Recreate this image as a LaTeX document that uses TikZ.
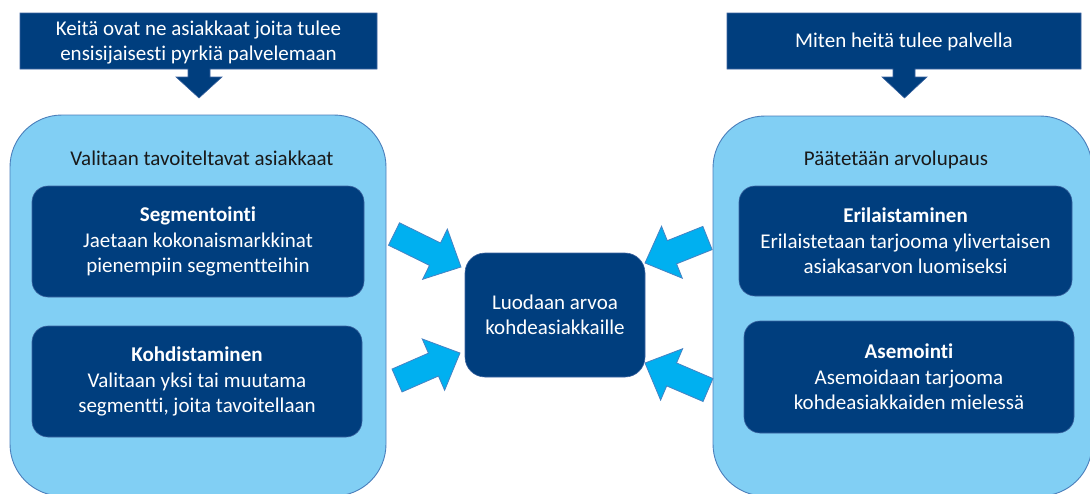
\documentclass[tikz,border=0pt]{standalone}
\usepackage{fontspec}
\setmainfont{Carlito}[RawFeature={-liga}]
\usetikzlibrary{calc}

\definecolor{navy}{RGB}{0,62,126}
\definecolor{navyedge}{RGB}{60,100,160}
\definecolor{sky}{RGB}{129,207,244}
\definecolor{skyline}{RGB}{74,126,187}
\definecolor{pushfill}{RGB}{0,176,240}
\definecolor{pushline}{RGB}{70,130,195}

% block arrow from a tail point to a tip point
\newcommand\pusharrow[2]{%
  \draw[flow] ($(#1)!12.5pt!90:(#2)$)
    -- ($($(#2)!29pt!(#1)$)!12.5pt!-90:(#1)$)
    -- ($($(#2)!29pt!(#1)$)!28pt!-90:(#1)$)
    -- (#2)
    -- ($($(#2)!29pt!(#1)$)!28pt!90:(#1)$)
    -- ($($(#2)!29pt!(#1)$)!12.5pt!90:(#1)$)
    -- ($(#1)!12.5pt!-90:(#2)$) -- cycle;}

\begin{document}
\begin{tikzpicture}[x=1pt,y=-1pt,
  txt/.style={font=\fontsize{21}{25.5}\selectfont, align=center, inner sep=0pt},
  panel/.style={fill=sky, draw=skyline, line width=0.9pt, rounded corners=52pt},
  card/.style={txt, fill=navy, draw=navyedge, line width=0.6pt, rounded corners=16pt, text=white},
  callout/.style={fill=navy, draw=navyedge, line width=0.6pt},
  flow/.style={fill=pushfill, draw=pushline, line width=0.8pt, line join=miter}]

\useasboundingbox (0,0) rectangle (1090,493);
\clip (0,0) rectangle (1090,493);

% question callouts
\draw[callout] (20,13) -- (377,13) -- (377,69) -- (210,69) -- (210,77) -- (222,77)
  -- (199,98) -- (176,77) -- (188,77) -- (188,69) -- (20,69) -- cycle;
\node[txt, text=white] (q1) at (198.5,42.5) {Keitä ovat ne asiakkaat joita tulee\\ensisijaisesti pyrkiä palvelemaan};

\draw[callout] (727,13) -- (1081,13) -- (1081,69) -- (915,69) -- (915,77) -- (927,77)
  -- (904.5,98) -- (882,77) -- (893,77) -- (893,69) -- (727,69) -- cycle;
\node[txt, text=white] (q2) at (904,42) {Miten heitä tulee palvella};

% two large panels
\draw[panel] (10,115) rectangle (386,496);
\draw[panel] (713,116) rectangle (1092,496);

\node[txt, text=black!90] (lt) at (202,158) {Valitaan tavoiteltavat asiakkaat};
\node[txt, text=black!90] (rt) at (896,160) {Päätetään arvolupaus};

% step cards
\node[card, minimum width=332pt, minimum height=111pt] (seg) at (198,241.5)
  {\textbf{Segmentointi}\\Jaetaan kokonaismarkkinat\\pienempiin segmentteihin};
\node[card, minimum width=330pt, minimum height=111pt] (koh) at (197,381.5)
  {\textbf{Kohdistaminen}\\Valitaan yksi tai muutama\\segmentti, joita tavoitellaan};
\node[card, minimum width=333pt, minimum height=110pt] (eri) at (905.5,241)
  {\textbf{Erilaistaminen}\\Erilaistetaan tarjooma ylivertaisen\\asiakasarvon luomiseksi};
\node[card, minimum width=330pt, minimum height=112pt] (ase) at (909,377)
  {\textbf{Asemointi}\\Asemoidaan tarjooma\\kohdeasiakkaiden mielessä};

% centre result
\node[card, rounded corners=20pt, minimum width=180pt, minimum height=124pt] (val) at (555,315)
  {Luodaan arvoa\\kohdeasiakkaille};

% arrows pushing into the centre
\coordinate (ulT) at (394,234);   \coordinate (ulH) at (461,267);
\coordinate (llT) at (397,380.5); \coordinate (llH) at (460,353);
\coordinate (urT) at (707.5,238); \coordinate (urH) at (645,263);
\coordinate (lrT) at (708,390);   \coordinate (lrH) at (645,363);
\pusharrow{ulT}{ulH}
\pusharrow{llT}{llH}
\pusharrow{urT}{urH}
\pusharrow{lrT}{lrH}
\end{tikzpicture}
\end{document}
